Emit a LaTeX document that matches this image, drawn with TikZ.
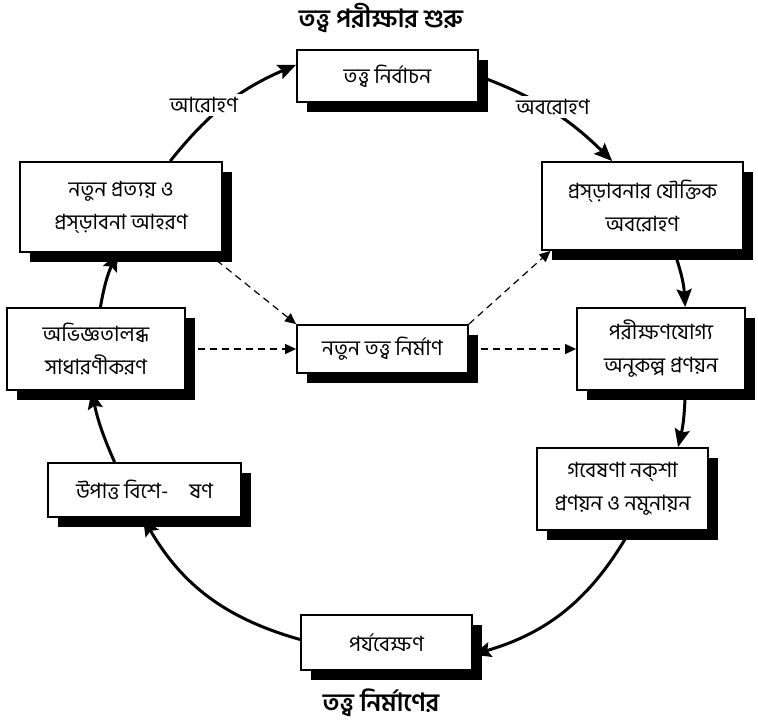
\documentclass[tikz,border=0pt]{standalone}
\usepackage{fontspec}
\setmainfont[Script=Bengali]{Hind Siliguri}
\usetikzlibrary{arrows.meta,shadows,backgrounds}

\begin{document}
\begin{tikzpicture}[x=1pt,y=-1pt,
  box/.style={draw,line width=1.8pt,fill=white,align=center,inner sep=2pt,
    font=\fontsize{21}{33}\selectfont,
    general shadow={fill=black,shadow xshift=10pt,shadow yshift=-10pt}},
  flow/.style={line width=3pt,-{Stealth[length=18pt,width=15pt,inset=3pt]}},
  link/.style={line width=1.2pt,dash pattern=on 7pt off 5pt,-{Triangle[length=11pt,width=10pt]}},
  lbl/.style={fill=white,inner sep=3pt,font=\fontsize{21}{24}\selectfont},
  ttl/.style={font=\bfseries\fontsize{25}{28}\selectfont}]
\useasboundingbox (0,0) rectangle (758,724);
% titles
\node[ttl] (top) at (381,18) {তত্ত্ব পরীক্ষার শুরু};
\node[ttl] (bot) at (381,703) {তত্ত্ব নির্মাণের};
% the cycle
\node[box,minimum width=181pt,minimum height=52pt] (sel) at (387.5,76) {তত্ত্ব নির্বাচন};
\node[box,minimum width=201pt,minimum height=88pt] (ded) at (642.5,206) {প্রস্ড়াবনার যৌক্তিক\\ অবরোহণ};
\node[box,minimum width=168pt,minimum height=82pt] (hyp) at (661,349) {পরীক্ষণযোগ্য\\ অনুকল্প প্রণয়ন};
\node[box,minimum width=171pt,minimum height=82pt] (des) at (622.5,489) {গবেষণা নক্শা\\ প্রণয়ন ও নমুনায়ন};
\node[box,minimum width=171pt,minimum height=55pt] (obs) at (386.5,642.5) {পর্যবেক্ষণ};
\node[box,minimum width=193pt,minimum height=54pt] (ana) at (144.5,490) {উপাত্ত বিশে-\quad ষণ};
\node[box,minimum width=178pt,minimum height=82pt] (gen) at (96,349) {অভিজ্ঞতালব্ধ\\ সাধারণীকরণ};
\node[box,minimum width=202pt,minimum height=90pt] (con) at (121,207) {নতুন প্রত্যয় ও\\ প্রস্ড়াবনা আহরণ};
\node[box,minimum width=171pt,minimum height=48pt] (newt) at (382.5,349) {নতুন তত্ত্ব নির্মাণ};
\begin{scope}[on background layer]
\draw[flow] (sel.east) to[bend left=12] (ded.124);
\draw[flow] (ded.305) to[bend left=8] (hyp.60);
\draw[flow] (hyp.300) to[bend left=6] (des.37);
\draw[flow] (des.-80) to[bend left=22] (obs.-8);
\draw[flow] (obs.178) to[bend left=22] (ana.267);
\draw[flow] (ana.137) to[bend left=6] (gen.264);
\draw[flow] (gen.84) to[bend left=8] (con.266);
\draw[flow] (con.43) to[bend left=14] (sel.173);
\draw[link] (con.-28) -- (newt.north west);
\draw[link] (newt.north east) -- (ded.206);
\draw[link] (gen.east) -- (newt.west);
\draw[link] (newt.east) -- (hyp.west);
\node[lbl,inner xsep=10pt] (up) at (204,105) {আরোহণ};
\node[lbl] (down) at (553,107) {অবরোহণ};
\end{scope}
\end{tikzpicture}
\end{document}
